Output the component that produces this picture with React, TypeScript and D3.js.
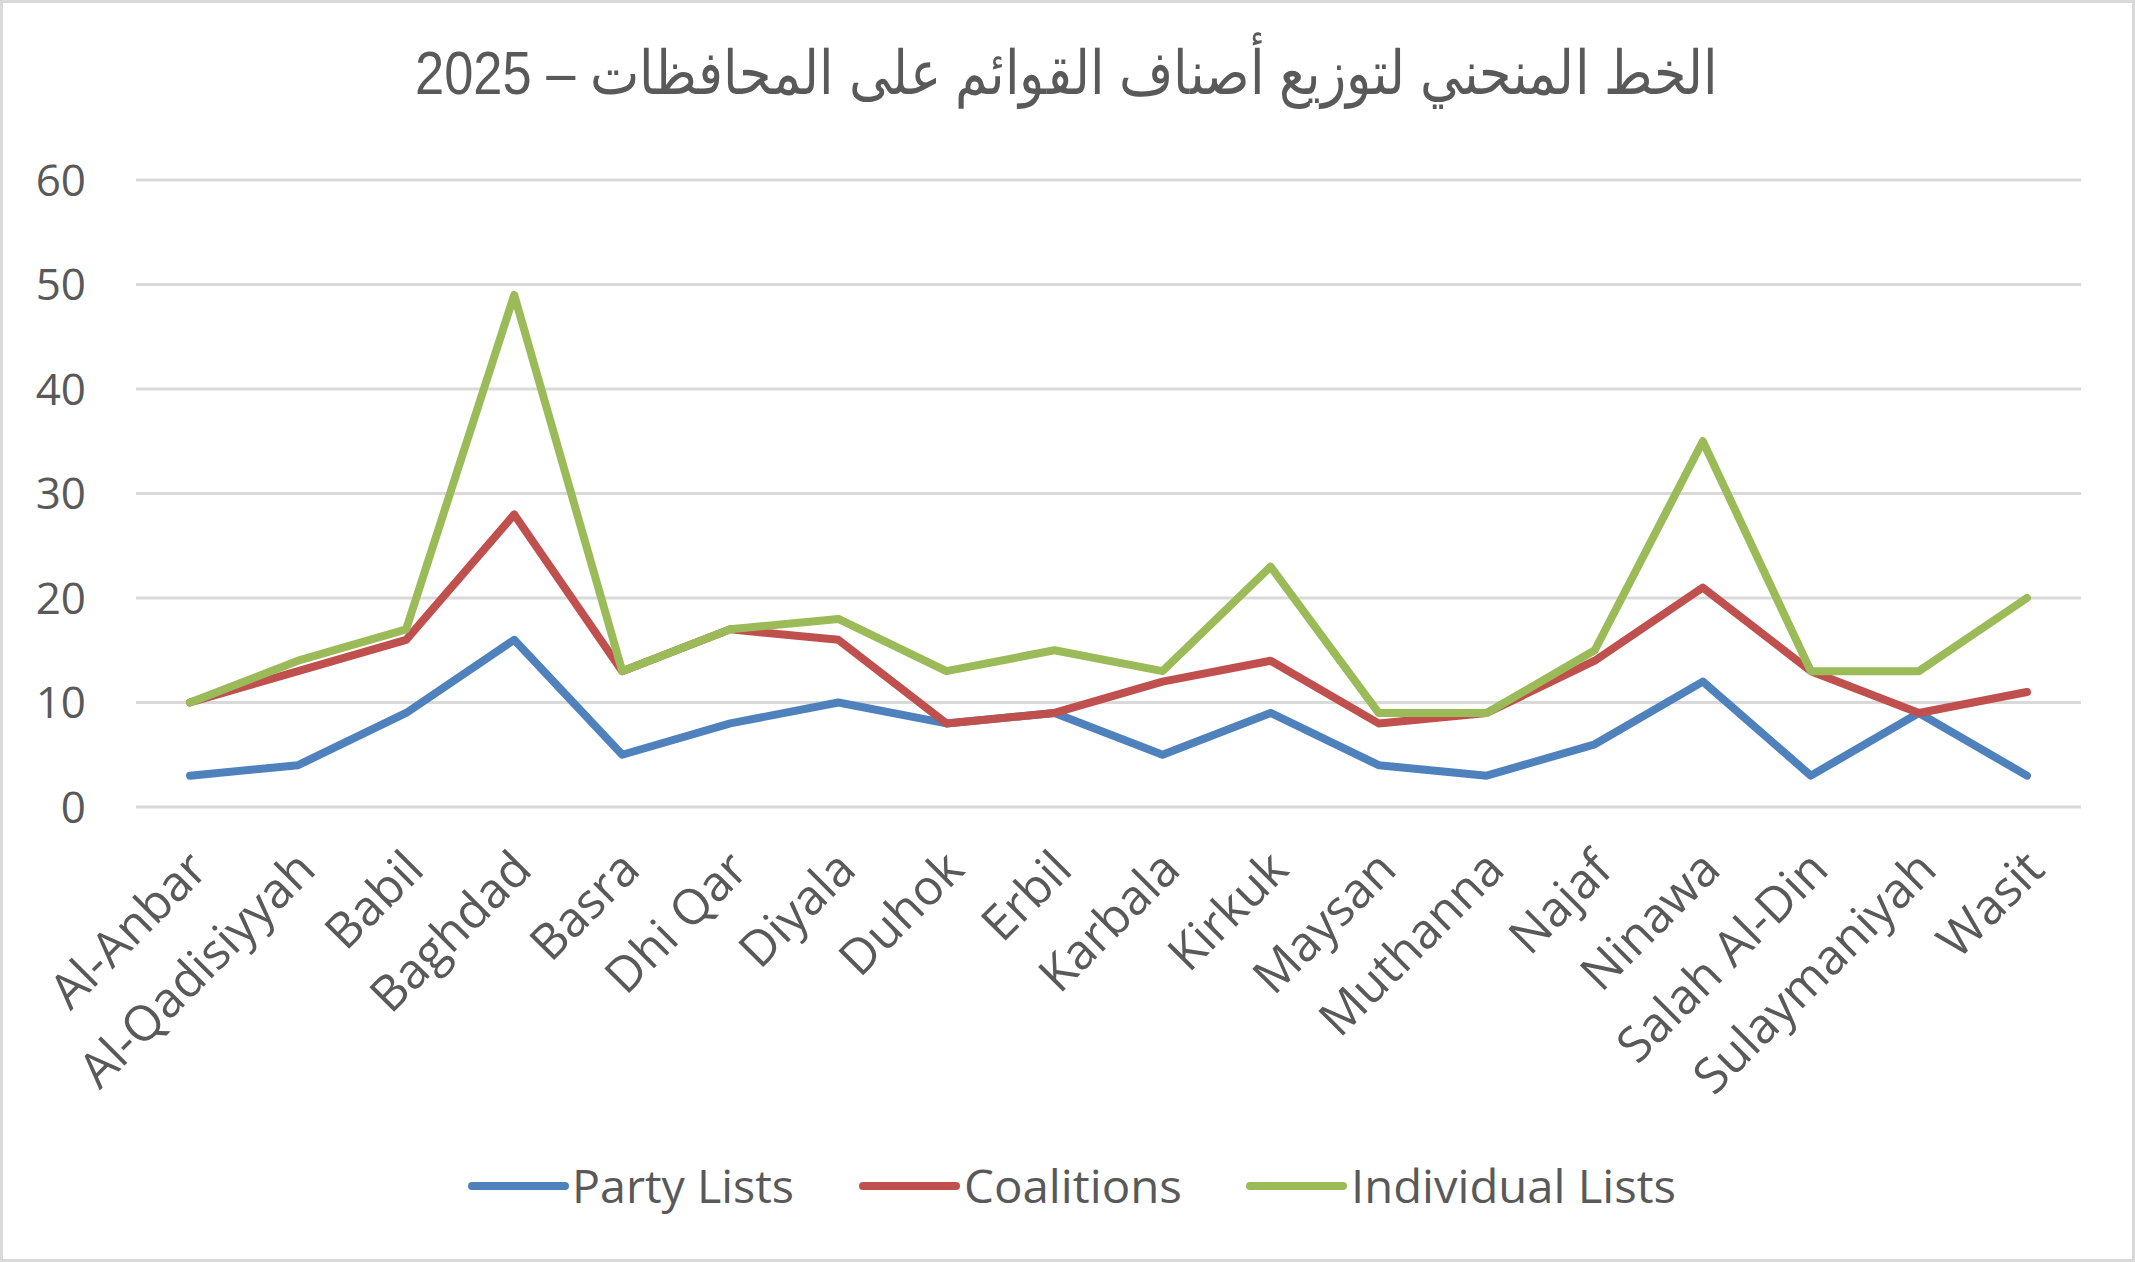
import React from "react";
import * as d3 from "d3";

const categories = ["Al-Anbar","Al-Qadisiyyah","Babil","Baghdad","Basra","Dhi Qar","Diyala","Duhok","Erbil","Karbala","Kirkuk","Maysan","Muthanna","Najaf","Ninawa","Salah Al-Din","Sulaymaniyah","Wasit"];
const partyLists = [3,4,9,16,5,8,10,8,9,5,9,4,3,6,12,3,9,3];
const coalitions = [10,13,16,28,13,17,16,8,9,12,14,8,9,14,21,13,9,11];
const individualLists = [10,14,17,49,13,17,18,13,15,13,23,9,9,15,35,13,13,20];
const yTicks = [0,10,20,30,40,50,60];
const title = "الخط المنحني لتوزيع أصناف القوائم على المحافظات – 2025";

const series = [
  { name: "Party Lists", values: partyLists, color: "#4f81bd" },
  { name: "Coalitions", values: coalitions, color: "#c0504d" },
  { name: "Individual Lists", values: individualLists, color: "#9bbb59" },
];

const W = 2135, H = 1262;
const left = 136, right = 2081, top = 180, bottom = 807;

export default function App() {
  const x = d3.scalePoint<string>().domain(categories).range([left, right]).padding(0.5);
  const y = d3.scaleLinear().domain([0, 60]).range([bottom, top]);
  const line = d3.line<number>().x((_, i) => x(categories[i])!).y(d => y(d));
  const textColor = "#595959";
  const legendItems = [
    { lx: 472, tx: 572, tw: 222 },
    { lx: 863, tx: 964, tw: 218 },
    { lx: 1250, tx: 1351, tw: 325 },
  ];
  return (
    <svg width={W} height={H} style={{ position: "absolute", left: 0, top: 0 }} xmlns="http://www.w3.org/2000/svg">
      <rect x={1.5} y={1.5} width={W - 3} height={H - 3} fill="#fff" stroke="#d9d9d9" strokeWidth={3} />
      <text x={415} y={94} textLength={1303} lengthAdjust="spacingAndGlyphs" fontFamily="'Liberation Sans', Arial, sans-serif" fontSize={61} fill={textColor} direction="rtl" textAnchor="end">{title}</text>
      {yTicks.map(t => (
        <g key={t}>
          <line x1={left} x2={right} y1={y(t)} y2={y(t)} stroke="#d9d9d9" strokeWidth={3} />
          <text x={86} y={y(t)} dy="0.36em" textAnchor="end" fontFamily="'Open Sans', sans-serif" fontSize={44} fill={textColor}>{t}</text>
        </g>
      ))}
      {categories.map(c => (
        <text key={c} transform={`translate(${x(c)! + 20},${872}) rotate(-45)`} textAnchor="end" fontFamily="'Open Sans', sans-serif" fontSize={49} fill={textColor}>{c}</text>
      ))}
      {series.map(s => (
        <path key={s.name} d={line(s.values)!} fill="none" stroke={s.color} strokeWidth={8} strokeLinejoin="round" strokeLinecap="round" />
      ))}
      {series.map((s, i) => (
        <g key={s.name}>
          <line x1={legendItems[i].lx} x2={legendItems[i].lx + 93} y1={1186} y2={1186} stroke={s.color} strokeWidth={8} strokeLinecap="round" />
          <text x={legendItems[i].tx} y={1186} dy="0.36em" textLength={legendItems[i].tw} lengthAdjust="spacingAndGlyphs" fontFamily="'Open Sans', sans-serif" fontSize={46} fill={textColor}>{s.name}</text>
        </g>
      ))}
    </svg>
  );
}
